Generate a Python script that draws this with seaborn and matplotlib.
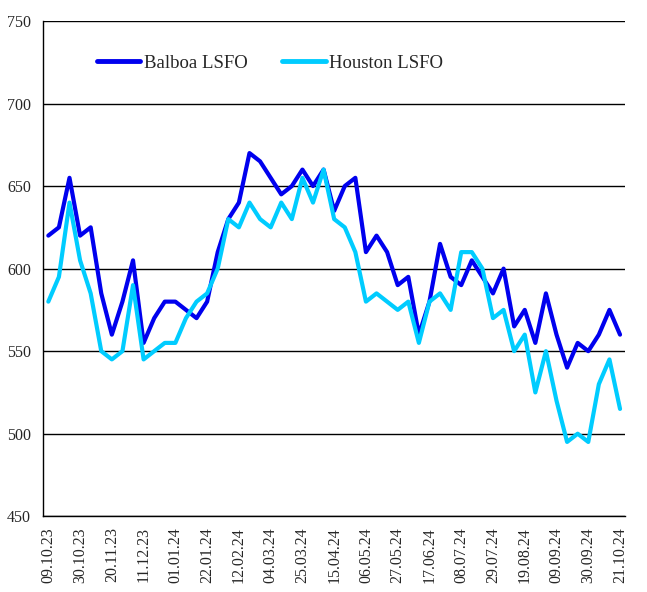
import numpy as np
import pandas as pd
import matplotlib
matplotlib.use("Agg")
import matplotlib.pyplot as plt
from matplotlib.ticker import FixedLocator
import seaborn as sns

# weekly dates, labelled every third week on the axis
dates = pd.date_range("2023-10-09", "2024-10-21", freq="7D")
date_labels = [d.strftime("%d.%m.%y") for d in dates]

balboa = [620, 625, 655, 620, 625, 585, 560, 580, 605, 555,
          570, 580, 580, 575, 570, 580, 610, 630, 640, 670,
          665, 655, 645, 650, 660, 650, 660, 635, 650, 655,
          610, 620, 610, 590, 595, 560, 580, 615, 595, 590,
          605, 595, 585, 600, 565, 575, 555, 585, 560, 540,
          555, 550, 560, 575, 560]
houston = [580, 595, 640, 605, 585, 550, 545, 550, 590, 545,
           550, 555, 555, 570, 580, 585, 600, 630, 625, 640,
           630, 625, 640, 630, 655, 640, 660, 630, 625, 610,
           580, 585, 580, 575, 580, 555, 580, 585, 575, 610,
           610, 600, 570, 575, 550, 560, 525, 550, 520, 495,
           500, 495, 530, 545, 515]

series_names = ["Balboa LSFO", "Houston LSFO"]
colors = ["#0000EE", "#00CCFF"]

df = pd.DataFrame({
    "idx": list(range(len(dates))) * 2,
    "value": balboa + houston,
    "series": [series_names[0]] * len(dates) + [series_names[1]] * len(dates),
})

sns.set_style("white")
plt.rcParams["font.family"] = ["Liberation Serif", "DejaVu Serif"]

fig = plt.figure(figsize=(6.47, 5.92), dpi=100)
ax = fig.add_axes([0.0665, 0.128, 0.9, 0.8365])

sns.lineplot(data=df, x="idx", y="value", hue="series", palette=colors,
             linewidth=3, ax=ax, legend=False)

ax.set_xlim(-0.5, len(dates) - 0.5)
ax.set_ylim(450, 750)
ax.set_yticks(np.arange(450, 751, 50))
ax.yaxis.grid(True, color="black", linewidth=1)
ax.set_axisbelow(True)

label_pos = list(range(0, len(dates), 3))
ax.set_xticks(label_pos)
ax.set_xticklabels([date_labels[i] for i in label_pos], rotation=90, fontsize=11.5)
ax.xaxis.set_minor_locator(FixedLocator(np.arange(-0.5, len(dates), 1)))
ax.tick_params(axis="x", which="major", length=0, pad=8)
ax.tick_params(axis="x", which="minor", length=5, width=1, color="black", direction="out")
ax.tick_params(axis="y", length=5, width=1, color="black", direction="out", labelsize=11.5)

for s in ["top", "right"]:
    ax.spines[s].set_visible(False)
for s in ["left", "bottom"]:
    ax.spines[s].set_color("black")
    ax.spines[s].set_linewidth(1)

ax.set_xlabel("")
ax.set_ylabel("")

handles = [plt.Line2D([], [], color=c, linewidth=3.5) for c in colors]
ax.legend(handles, series_names, loc="upper left", bbox_to_anchor=(0.064, 0.966),
          ncol=2, frameon=False, fontsize=13.5, handlelength=2.3,
          handletextpad=0.2, columnspacing=1.85)

fig.savefig("out.png", dpi=100)
